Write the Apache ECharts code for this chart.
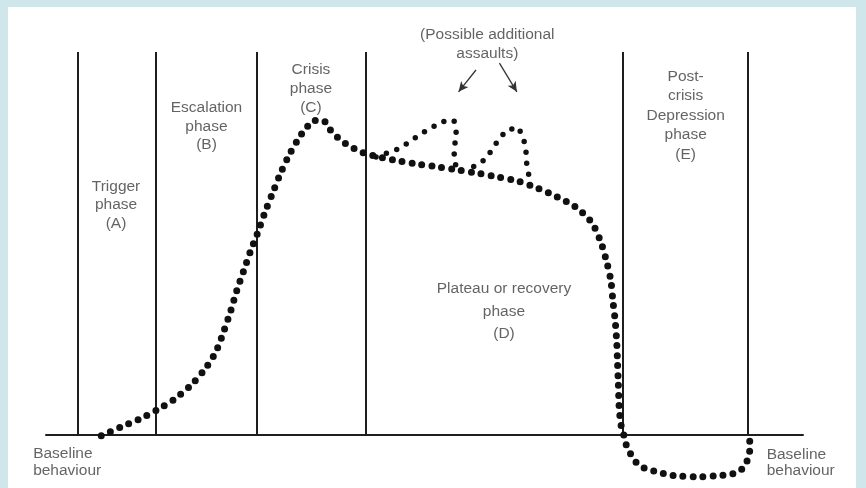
<!DOCTYPE html>
<html>
<head>
<meta charset="utf-8">
<script src="https://cdn.jsdelivr.net/npm/echarts@6/dist/echarts.min.js"></script>
<style>
  html, body { margin: 0; padding: 0; background: #cfe7eb; }
  .box { position: relative; width: 866px; height: 488px; }
  .paper { position: absolute; left: 8px; top: 7px; width: 848px; height: 481px; background: #fff; }
  #chart { position: absolute; left: 0; top: 0; width: 866px; height: 488px; }
</style>
</head>
<body>
<div class="box">
  <div class="paper"></div>
  <div id="chart"></div>
</div>
<script>
  // x: time through the crisis (0-100), y: intensity of behaviour (baseline = 0)
  const phaseLines = [4.2, 14.5, 27.9, 42.3, 76.2, 92.7];

  // main curve
  const mainCurve = [
    [7.3, -0.2], [9.9, 2.1], [12.4, 4.2], [14.9, 6.8], [17.2, 9.7], [19.3, 13.3],
    [21.1, 17.5], [22.5, 22.0], [23.5, 27.2], [24.4, 32.4], [25.2, 37.7], [26.1, 42.8],
    [27.0, 47.9], [28.0, 53.0], [28.9, 58.0], [30.0, 63.5], [31.0, 68.4], [32.2, 73.4],
    [33.6, 78.1], [34.4, 80.2], [35.4, 82.1], [36.6, 82.1], [37.4, 80.0], [38.4, 77.9],
    [39.5, 76.2], [40.7, 74.8], [41.9, 73.7], [43.3, 72.9], [46.0, 71.8], [48.8, 70.8],
    [51.5, 70.1], [54.3, 69.2], [56.9, 68.4], [59.6, 67.4], [62.3, 66.3], [64.9, 64.5],
    [67.5, 62.2], [69.9, 59.6], [72.0, 55.7], [73.2, 50.9], [74.0, 45.7], [74.6, 40.5],
    [74.9, 34.8], [75.2, 29.6], [75.4, 24.0], [75.5, 18.8], [75.6, 13.6], [75.7, 7.8],
    [75.8, 5.2], [76.0, 2.2], [76.35, -0.2], [76.7, -2.9], [77.3, -5.2], [78.0, -7.2],
    [79.1, -8.7], [80.7, -9.6], [82.0, -10.3], [83.5, -10.7], [86.2, -10.9], [88.8, -10.6],
    [90.1, -10.3], [91.3, -9.8], [92.2, -8.3], [92.8, -5.7], [93.0, -3.0], [92.9, -0.3]
  ];

  // possible additional assaults
  const assaultA = [
    [43.6, 72.6], [46.8, 74.9], [48.2, 76.8], [49.5, 78.6], [51.0, 80.3], [52.4, 81.8],
    [53.9, 82.1], [54.2, 78.8], [54.0, 75.7], [53.9, 72.5], [54.2, 69.7]
  ];
  const assaultB = [
    [56.5, 70.1], [57.9, 71.8], [58.9, 74.4], [59.8, 77.2], [60.9, 79.6], [62.4, 80.3],
    [63.1, 77.3], [63.4, 74.2], [63.5, 70.9], [63.8, 67.6], [63.8, 65.3]
  ];
  const arrows = [
    [[56.8, 95.3], [54.5, 89.6]],
    [[59.9, 97.1], [62.2, 89.6]]
  ];

  const labelNames = [
    'Trigger\nphase\n(A)',
    'Escalation\nphase\n(B)',
    'Crisis\nphase\n(C)',
    'Plateau or recovery\nphase\n(D)',
    'Post-\ncrisis\nDepression\nphase\n(E)',
    '(Possible additional\nassaults)',
    'Baseline\nbehaviour',
    'Baseline\nbehaviour'
  ];
  const labelPos = [
    [9.25, 60.1], [21.2, 80.5], [35.0, 90.3], [60.5, 32.3],
    [84.5, 83.4], [58.3, 102.0], [-1.7, -7.1], [95.2, -7.3]
  ];
  const labelAlign = ['center', 'center', 'center', 'center', 'center', 'center', 'left', 'left'];
  const labelLineH = [18.5, 18.5, 19, 22.5, 19.5, 18.5, 17.5, 16];

  let myChart = echarts.init(document.getElementById('chart'));

  // pixel mapping of the value axis: y=0 at 435px, y=100 at 52px
  const k = (435 - 52) / 100;
  const yMin = -13, yMax = 112;

  let labelData = labelNames.map(function (n, i) {
    return {
      name: n,
      value: labelPos[i],
      label: { align: labelAlign[i], lineHeight: labelLineH[i] }
    };
  });

  let vLines = phaseLines.map(function (x) {
    return [{ coord: [x, 0] }, { coord: [x, 100] }];
  });

  let arrowLines = arrows.map(function (a) {
    return [{ coord: a[0] }, { coord: a[1] }];
  });

  let dotted = function (w, gap) {
    return { type: [0, gap], cap: 'round', width: w, color: '#111' };
  };

  let option = {
    animation: false,
    grid: {
      left: 46,
      right: 63,
      top: 435 - k * yMax,
      bottom: 488 - (435 - k * yMin)
    },
    xAxis: {
      type: 'value',
      min: 0,
      max: 100,
      axisLine: { show: true, onZero: true, lineStyle: { color: '#1e1e1e', width: 2 } },
      axisTick: { show: false },
      axisLabel: { show: false },
      splitLine: { show: false }
    },
    yAxis: {
      type: 'value',
      min: yMin,
      max: yMax,
      show: false,
      splitLine: { show: false }
    },
    series: [
      {
        type: 'line',
        data: mainCurve,
        smooth: 0.3,
        showSymbol: false,
        lineStyle: dotted(7, 10),
        z: 5,
        markLine: {
          silent: true,
          symbol: ['none', 'none'],
          label: { show: false },
          lineStyle: { type: 'solid', color: '#1e1e1e', width: 2 },
          data: vLines
        }
      },
      {
        type: 'line',
        data: assaultA,
        showSymbol: false,
        lineStyle: dotted(5.5, 11),
        z: 4
      },
      {
        type: 'line',
        data: assaultB,
        showSymbol: false,
        lineStyle: dotted(5.5, 11),
        z: 4,
        markLine: {
          silent: true,
          symbol: ['none', 'arrow'],
          symbolSize: [7, 10],
          label: { show: false },
          lineStyle: { type: 'solid', color: '#333', width: 1.3 },
          data: arrowLines
        }
      },
      {
        type: 'scatter',
        data: labelData,
        symbolSize: 1,
        clip: false,
        itemStyle: { color: 'transparent' },
        label: {
          show: true,
          position: 'inside',
          formatter: '{b}',
          color: '#3c3c3c',
          fontSize: 15.5,
          fontFamily: 'Liberation Sans, Arial, sans-serif'
        },
        silent: true
      }
    ]
  };

  myChart.setOption(option);
</script>
</body>
</html>
